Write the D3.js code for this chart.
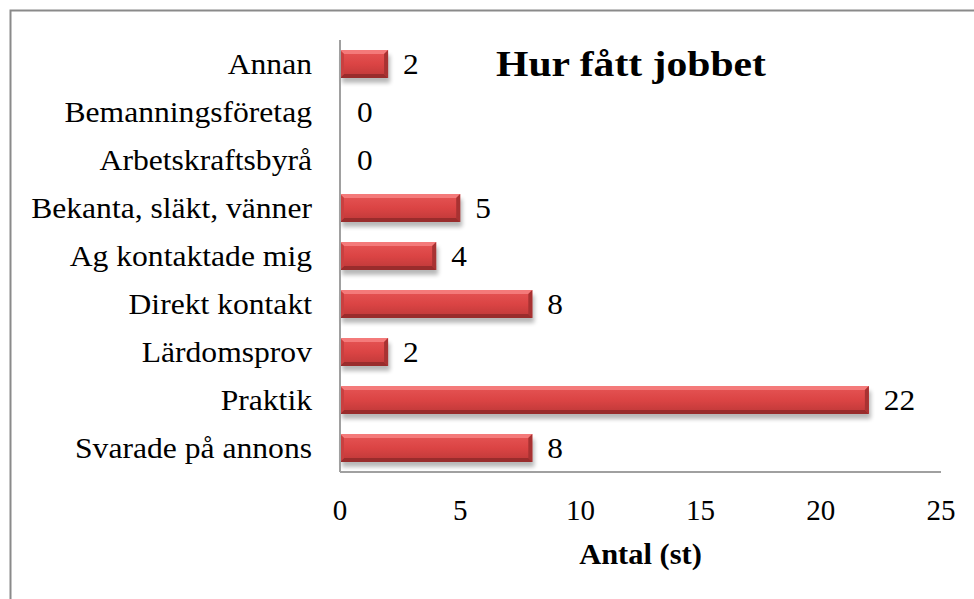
<!DOCTYPE html>
<html><head><meta charset="utf-8">
<script src="https://cdn.jsdelivr.net/npm/d3@7"></script>
<style>html,body{margin:0;padding:0;background:#fff;}svg{display:block;}</style>
</head><body>
<svg id="c" width="974" height="599"></svg>
<script>
const categories = ["Svarade på annons","Praktik","Lärdomsprov","Direkt kontakt","Ag kontaktade mig","Bekanta, släkt, vänner","Arbetskraftsbyrå","Bemanningsföretag","Annan"];
const values = [8,22,2,8,4,5,0,0,2];
const xTicks = [0,5,10,15,20,25];
const title = "Hur fått jobbet";
const xTitle = "Antal (st)";

const svg = d3.select("#c");
const W=974,H=599;
const m={left:340,right:W-941,top:40,bottom:H-472};
const font="'Liberation Serif','Times New Roman',serif";

svg.append("rect").attr("x",10.5).attr("y",10.5).attr("width",W+20).attr("height",H+20)
  .attr("fill","#fff").attr("stroke","#8a8a8a").attr("stroke-width",2);

const x=d3.scaleLinear().domain([0,25]).range([m.left,W-m.right]);
const y=d3.scaleBand().domain(categories.slice().reverse()).range([m.top,H-m.bottom]).paddingInner(0.42).paddingOuter(0.21);

const defs=svg.append("defs");
const g=defs.append("linearGradient").attr("id","bg").attr("x1",0).attr("y1",0).attr("x2",0).attr("y2",1);
g.append("stop").attr("offset","0%").attr("stop-color","#e65555");
g.append("stop").attr("offset","50%").attr("stop-color","#db4444");
g.append("stop").attr("offset","100%").attr("stop-color","#bd3838");
const f=defs.append("filter").attr("id","sh").attr("x","-10%").attr("y","-30%").attr("width","130%").attr("height","190%");
f.append("feGaussianBlur").attr("stdDeviation",2.2);

const data=categories.map((c,i)=>({c,v:values[i]}));
const bars=svg.append("g");
const bw=y.bandwidth();
const bv=4;
data.filter(d=>d.v>0).forEach(d=>{
  const x0=x(0), x1=x(d.v), y0=y(d.c), y1=y0+bw;
  const gg=bars.append("g");
  gg.append("rect").attr("x",x0+2).attr("y",y0+5).attr("width",x1-x0).attr("height",bw)
    .attr("fill","#000").attr("opacity",0.28).attr("filter","url(#sh)");
  gg.append("rect").attr("x",x0).attr("y",y0).attr("width",x1-x0).attr("height",bw).attr("fill","url(#bg)");
  gg.append("polygon").attr("points",`${x0},${y0} ${x1},${y0} ${x1-bv},${y0+bv} ${x0+bv},${y0+bv}`).attr("fill","#f47a7a");
  gg.append("polygon").attr("points",`${x0},${y1} ${x1},${y1} ${x1-bv},${y1-bv} ${x0+bv},${y1-bv}`).attr("fill","#992c2c");
  gg.append("polygon").attr("points",`${x1},${y0} ${x1},${y1} ${x1-bv},${y1-bv} ${x1-bv},${y0+bv}`).attr("fill","#a83232");
  gg.append("polygon").attr("points",`${x0},${y0} ${x0},${y1} ${x0+bv},${y1-bv} ${x0+bv},${y0+bv}`).attr("fill","#c94040");
});

svg.append("line").attr("x1",x(0)).attr("x2",x(25)).attr("y1",H-m.bottom).attr("y2",H-m.bottom).attr("stroke","#a0a0a0").attr("stroke-width",2);
svg.append("line").attr("x1",x(0)).attr("x2",x(0)).attr("y1",m.top).attr("y2",H-m.bottom).attr("stroke","#a0a0a0").attr("stroke-width",2);

svg.append("g").selectAll("text").data(data).join("text")
  .attr("x",312).attr("y",d=>y(d.c)+bw/2).attr("dy","0.35em").attr("text-anchor","end")
  .attr("font-family",font).attr("font-size",29).attr("fill","#000")
  .attr("transform",`translate(312,0) scale(1.09,1) translate(-312,0)`)
  .text(d=>d.c);

svg.append("g").selectAll("text").data(data).join("text")
  .attr("x",d=>x(d.v)+(d.v>0?15:17)).attr("y",d=>y(d.c)+bw/2).attr("dy","0.35em")
  .attr("font-family",font).attr("font-size",29).attr("fill","#000")
  .attr("transform",d=>{const a=x(d.v)+(d.v>0?15:17);return `translate(${a},0) scale(1.08,1) translate(${-a},0)`;})
  .text(d=>d.v);

svg.append("g").selectAll("text").data(xTicks).join("text")
  .attr("x",d=>x(d)).attr("y",520).attr("text-anchor","middle")
  .attr("font-family",font).attr("font-size",29).attr("fill","#000")
  .text(d=>d);

svg.append("text").attr("x",(x(0)+x(25))/2).attr("y",564).attr("text-anchor","middle")
  .attr("font-family",font).attr("font-weight","bold").attr("font-size",29)
  .attr("transform",`translate(640,0) scale(1.05,1) translate(-640,0)`)
  .text(xTitle);

svg.append("text").attr("x",631).attr("y",76).attr("text-anchor","middle")
  .attr("font-family",font).attr("font-weight","bold").attr("font-size",35)
  .attr("transform",`translate(631,0) scale(1.19,1) translate(-631,0)`)
  .text(title);
</script>
</body></html>
